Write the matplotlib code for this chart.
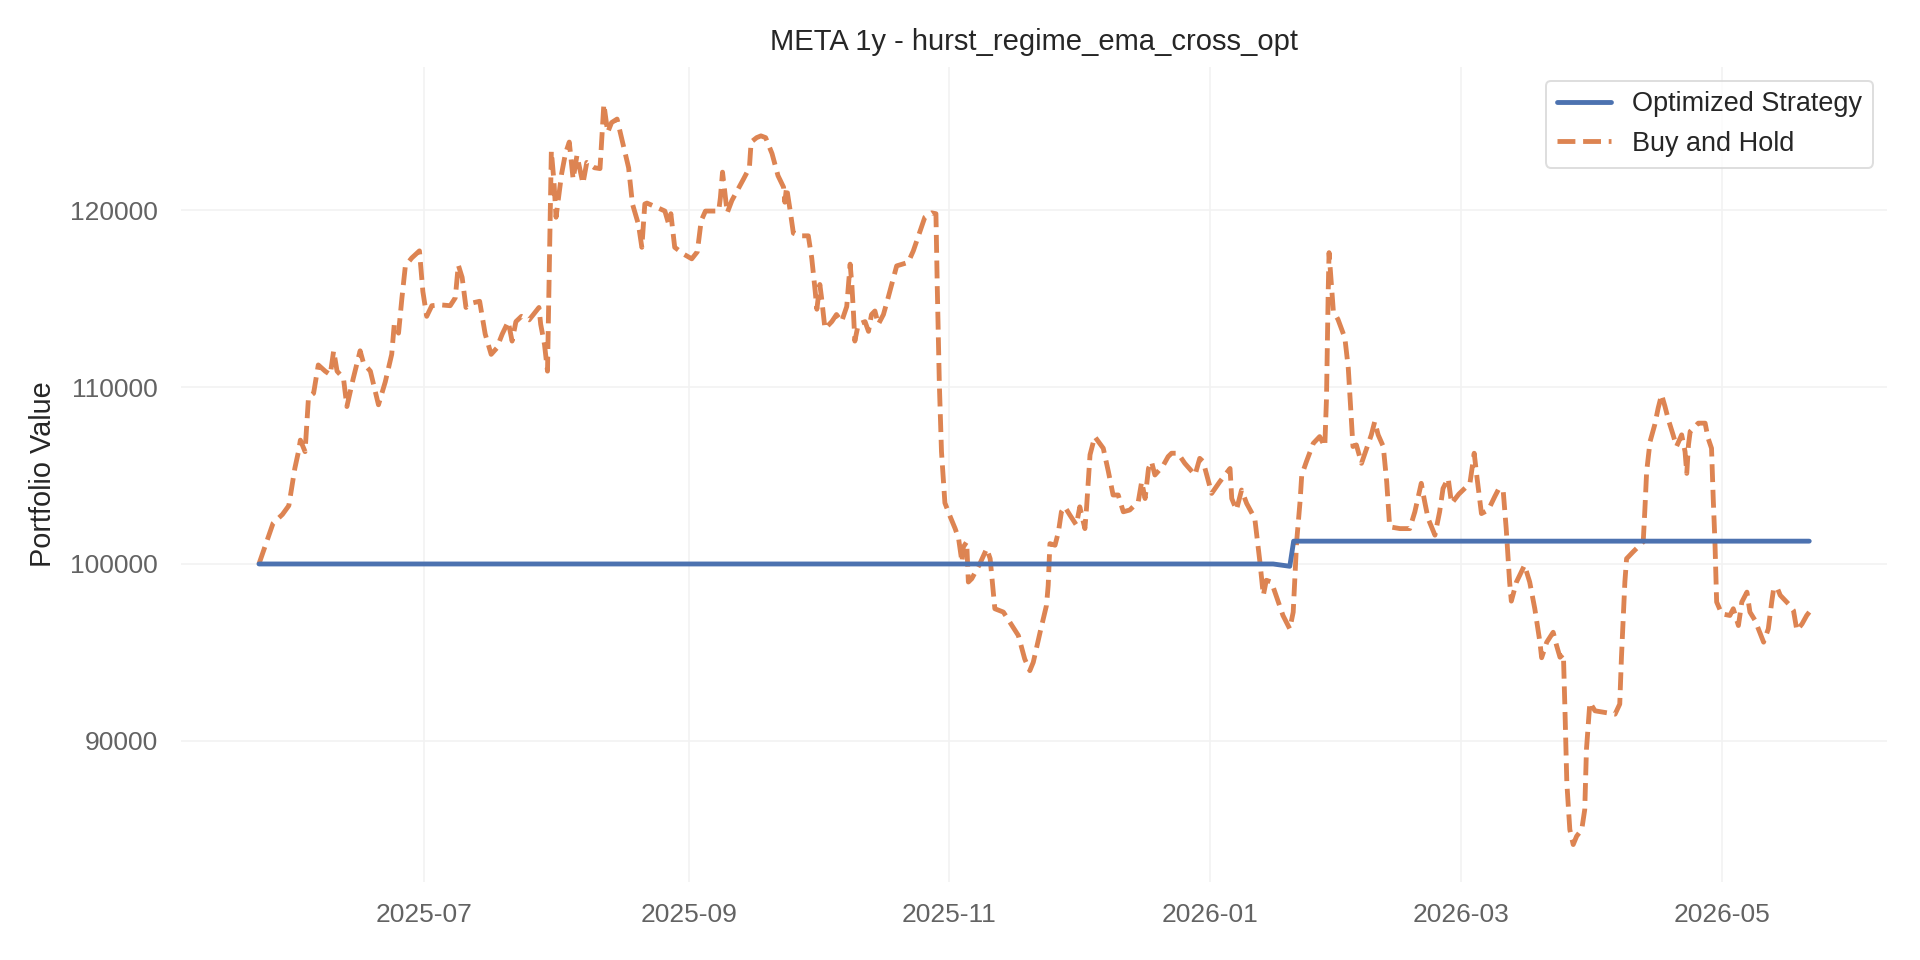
import matplotlib
matplotlib.use("Agg")
import matplotlib.pyplot as plt
import matplotlib.dates as mdates
import pandas as pd

# ---------------- data ----------------
title_text = "META 1y - hurst_regime_ema_cross_opt"
y_label = "Portfolio Value"
series_names = ["Optimized Strategy", "Buy and Hold"]
base_date = "2025-07-01"   # day offsets below are counted from this date

strategy_days = [-38.7, 198.9, 202.8, 203.7, 324.5]
strategy_values = [100000, 100000, 99870, 101290, 101290]

bh_days = [
    -38.7, -35.4, -33.2, -31.7, -30.3, -29.4, -29.0, -27.9, -27.5, -27.1,
    -25.9, -24.8, -23.2, -22.0, -21.2, -20.4, -18.9, -18.1, -16.6, -15.0,
    -14.2, -12.6, -10.7, -9.1, -7.6, -7.0, -6.0, -5.2, -4.4, -2.9,
    -1.1, -0.3, 0.6, 1.8, 3.7, 6.1, 7.3, 8.0, 8.9, 9.8,
    11.2, 13.0, 14.3, 15.7, 17.0, 18.3, 19.7, 20.6, 21.5, 22.8,
    24.6, 26.9, 27.3, 28.2, 28.9, 29.8, 30.4, 30.9, 31.6, 32.2,
    33.1, 34.0, 34.9, 35.8, 37.2, 38.1, 39.9, 41.2, 42.1, 43.0,
    43.9, 45.2, 47.9, 48.8, 50.2, 51.0, 51.7, 52.2, 54.6, 56.4,
    57.3, 57.8, 58.7, 60.9, 62.7, 64.0, 64.9, 65.9, 69.0, 69.4,
    69.9, 71.0, 72.1, 74.8, 76.2, 76.6, 77.9, 78.9, 80.0, 81.5,
    82.9, 84.2, 84.5, 84.9, 85.7, 86.5, 88.0, 90.0, 90.8, 91.6,
    92.0, 92.7, 93.1, 93.9, 95.5, 96.6, 97.8, 99.0, 99.8, 100.2,
    100.6, 100.9, 101.7, 103.3, 104.1, 104.8, 105.6, 106.4, 107.6, 108.7,
    110.7, 113.4, 114.6, 117.3, 118.9, 119.9, 120.2, 120.7, 121.2, 122.0,
    123.2, 124.4, 125.2, 126.0, 126.3, 127.1, 127.5, 128.3, 130.2, 131.8,
    132.6, 133.7, 135.7, 137.2, 139.2, 140.7, 141.9, 142.7, 144.3, 145.8,
    146.2, 146.6, 147.8, 148.6, 149.3, 150.1, 151.3, 152.8, 153.6, 154.8,
    155.2, 156.0, 157.1, 159.1, 160.3, 161.4, 162.6, 163.8, 165.3, 167.3,
    168.1, 168.9, 169.7, 170.4, 171.2, 173.1, 174.3, 175.1, 176.6, 178.2,
    180.6, 181.7, 182.5, 184.5, 186.4, 187.6, 188.8, 189.2, 190.3, 191.5,
    192.7, 194.6, 195.8, 196.6, 197.3, 198.5, 200.1, 201.2, 202.8, 203.6,
    204.4, 205.2, 205.6, 206.7, 208.3, 209.8, 211.0, 211.4, 211.8, 212.0,
    212.6, 213.0, 214.1, 215.7, 216.5, 217.6, 218.4, 219.6, 220.8, 221.9,
    222.7, 223.5, 224.7, 225.5, 226.2, 228.6, 230.9, 232.1, 233.6, 234.4,
    235.2, 236.8, 237.9, 238.7, 239.9, 240.7, 242.4, 245.0, 246.0, 246.7,
    247.7, 249.3, 250.8, 251.8, 252.8, 253.5, 254.3, 254.7, 255.9, 257.8,
    259.0, 260.2, 261.4, 261.8, 263.0, 264.5, 265.3, 266.1, 266.9, 267.3,
    267.7, 268.4, 269.2, 270.0, 271.2, 271.9, 272.3, 273.1, 274.3, 276.6,
    279.0, 280.1, 280.5, 281.3, 281.7, 283.2, 284.8, 285.6, 286.0, 286.4,
    287.2, 288.3, 289.1, 289.9, 290.7, 291.5, 292.6, 293.4, 294.6, 295.4,
    295.8, 296.2, 296.6, 298.5, 300.1, 300.8, 301.6, 302.0, 302.4, 302.8,
    304.0, 305.9, 306.7, 307.9, 308.7, 309.9, 310.6, 311.8, 313.8, 314.9,
    315.7, 316.1, 316.9, 317.7, 319.6, 320.8, 321.6, 322.8, 323.9, 324.5,
]
bh_values = [
    100000, 102300, 102800, 103300, 105400, 106400, 107000, 106350, 107900, 109400,
    109650, 111250, 110900, 110700, 112050, 110900, 110500, 108900, 110500, 112050,
    111350, 110900, 109000, 110300, 111850, 113550, 113050, 115050, 116850, 117300,
    117700, 115400, 114000, 114600, 114650, 114600, 115050, 116900, 116200, 114500,
    114750, 114850, 113000, 111850, 112200, 113000, 113700, 112600, 113700, 114000,
    113800, 114500, 113550, 112400, 110900, 123350, 121650, 119600, 120900, 122050,
    123200, 123850, 121750, 123100, 121500, 122700, 122400, 122350, 126000, 124400,
    124950, 125150, 122400, 120350, 119200, 117900, 120350, 120400, 120150, 119950,
    119200, 119800, 117900, 117500, 117250, 117650, 119400, 119950, 119950, 120700,
    122150, 119850, 120550, 121750, 122400, 123850, 124100, 124200, 124100, 123200,
    121950, 121300, 120450, 121300, 120050, 118700, 118550, 118550, 117300, 115450,
    114400, 115800, 115050, 113300, 113700, 114100, 113700, 114550, 116950, 115800,
    114100, 112600, 113550, 113700, 113150, 114100, 114300, 113550, 114100, 115050,
    116850, 117050, 117700, 119600, 119850, 119800, 115800, 110150, 106350, 103450,
    102700, 102000, 101450, 100100, 100950, 101250, 98980, 99170, 100020, 100870,
    100300, 97470, 97280, 96710, 95960, 94630, 93970, 94440, 96140, 97660,
    98790, 101150, 101060, 101820, 102950, 103230, 102760, 102200, 103230, 102000,
    103230, 106170, 107200, 106540, 105220, 103900, 103900, 102950, 103050, 103520,
    104650, 103700, 105400, 105790, 105030, 105550, 106070, 106260, 106260, 105690,
    105030, 105970, 105790, 103990, 104650, 105030, 105400, 103700, 103050, 104180,
    103420, 102570, 100110, 98230, 99080, 98980, 97850, 97090, 96330, 97280,
    101250, 103520, 105030, 105790, 106820, 107200, 106640, 109380, 115430, 117600,
    115620, 114300, 113820, 112780, 111080, 106640, 106730, 105690, 106540, 107300,
    108050, 107300, 106640, 104650, 102100, 102000, 102000, 102950, 104560, 103520,
    102570, 101630, 102950, 104270, 104840, 103420, 103950, 104560, 106260, 104800,
    102850, 103050, 103800, 104270, 104130, 102000, 98980, 97900, 98980, 99930,
    98980, 97470, 95580, 94700, 95580, 96140, 95390, 94730, 94910, 91420,
    87640, 84990, 84140, 84610, 84990, 86120, 89520, 92170, 91700, 91610,
    91510, 92080, 94730, 98980, 100300, 100680, 101060, 101250, 103140, 105220,
    106920, 107870, 108810, 109570, 108900, 108150, 107300, 106640, 107300, 106350,
    105120, 106730, 107490, 107960, 107960, 107110, 106540, 103700, 101250, 97850,
    97180, 97090, 97470, 96520, 97850, 98410, 97280, 96810, 95580, 96330,
    97850, 98510, 98700, 98230, 97750, 97370, 96240, 96610, 97090, 97280,
]

# ---------------- style ----------------
plt.rcParams["font.family"] = ["Liberation Sans", "DejaVu Sans"]
blue = "#4C72B0"
orange = "#DD8452"
tick_color = "#636363"
text_color = "#262626"

base = pd.Timestamp(base_date)
strat_dates = base + pd.to_timedelta(strategy_days, unit="D")
bh_dates = base + pd.to_timedelta(bh_days, unit="D")

fig = plt.figure(figsize=(16, 8), dpi=120)
ax = fig.add_axes([0.0945, 0.0817, 0.8882, 0.8485])

ax.plot(strat_dates, strategy_values, color=blue, lw=2.9, ls="-",
        solid_capstyle="round", label=series_names[0], zorder=3)
ax.plot(bh_dates, bh_values, color=orange, lw=2.9, ls="--",
        label=series_names[1], zorder=2)

ax.set_title(title_text, fontsize=17.5, color=text_color, pad=10)
ax.set_ylabel(y_label, fontsize=17.3, color=text_color, labelpad=8)

ax.xaxis.set_major_locator(mdates.MonthLocator(bymonth=[1, 3, 5, 7, 9, 11]))
ax.xaxis.set_major_formatter(mdates.DateFormatter("%Y-%m"))
ax.set_yticks([90000, 100000, 110000, 120000])
ax.set_yticklabels(["90000", "100000", "110000", "120000"])

ax.tick_params(axis="both", length=0, labelsize=15.8, labelcolor=tick_color)
ax.tick_params(axis="x", pad=13)
ax.tick_params(axis="y", pad=14)

ax.grid(True, color="#f2f2f2", lw=1.0)
ax.set_axisbelow(True)
for s in ax.spines.values():
    s.set_visible(False)
ax.set_facecolor("white")

leg = ax.legend(loc="upper right", fontsize=16.2, frameon=True, fancybox=True,
                borderaxespad=0.5)
leg.get_frame().set_edgecolor("#d6d6d6")
leg.get_frame().set_linewidth(1.2)
for t in leg.get_texts():
    t.set_color(text_color)

fig.savefig("out.png", dpi=120, facecolor="white")
